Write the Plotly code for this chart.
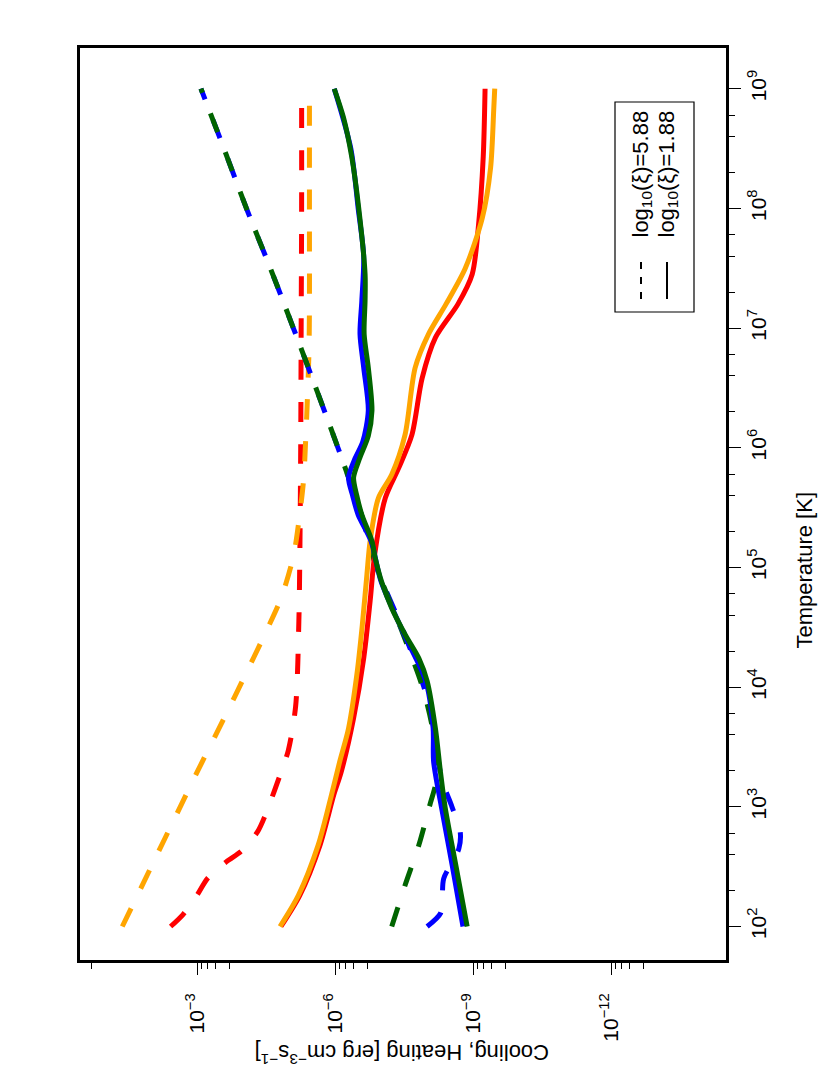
import plotly.graph_objects as go

# values: log10(T [K]) and log10(rate [erg cm^-3 s^-1])
# dashed = log10(xi)=5.88, solid = log10(xi)=1.88

red_588_T = [2.0, 2.1, 2.27, 2.40, 2.54, 2.63, 2.79, 2.93, 3.125, 3.265, 3.47, 3.84, 4.55, 5.06, 6.0, 7.0, 8.0, 9.0]
red_588_lg = [-2.42, -2.69, -3.01, -3.22, -3.63, -3.96, -4.31, -4.48, -4.67, -4.80, -4.98, -5.14, -5.21, -5.23, -5.25, -5.26, -5.27, -5.27]

orange_588_T = [2.0, 2.5, 3.0, 3.3, 3.76, 4.09, 4.41, 4.74, 5.09, 5.30, 5.72, 6.08, 6.45, 6.81, 7.18, 8.0, 9.0]
orange_588_lg = [-1.37, -2.0, -2.63, -3.01, -3.61, -4.03, -4.43, -4.82, -5.09, -5.18, -5.31, -5.36, -5.40, -5.43, -5.44, -5.44, -5.44]

blue_588_T = [2.0, 2.11, 2.25, 2.40, 2.65, 2.79, 3.0, 3.14, 3.3, 3.65, 4.0, 4.5, 5.0, 5.44, 6.0, 6.5, 7.0, 7.5, 8.0, 8.5, 9.0]
blue_588_lg = [-8.0, -8.29, -8.33, -8.36, -8.69, -8.72, -8.54, -8.40, -8.28, -8.15, -7.93, -7.45, -6.90, -6.57, -6.06, -5.58, -5.09, -4.59, -4.07, -3.58, -3.08]

green_588_T = [2.0, 2.345, 2.68, 3.03, 3.18, 3.3, 3.65, 4.0, 4.5, 5.0, 5.44, 6.0, 6.5, 7.0, 7.5, 8.0, 8.5, 9.0]
green_588_lg = [-7.23, -7.52, -7.82, -8.07, -8.18, -8.22, -8.12, -7.90, -7.42, -6.90, -6.57, -6.06, -5.58, -5.09, -4.59, -4.07, -3.58, -3.08]

red_188_T = [2.0, 2.26, 2.68, 3.10, 3.29, 3.74, 4.24, 4.72, 5.11, 5.58, 5.83, 6.11, 6.58, 6.92, 7.20, 7.45, 7.87, 8.43, 9.0]
red_188_lg = [-4.82, -5.23, -5.67, -5.97, -6.13, -6.40, -6.62, -6.76, -6.86, -7.09, -7.38, -7.67, -7.89, -8.18, -8.67, -8.98, -9.12, -9.22, -9.26]

orange_188_T = [2.0, 2.26, 2.68, 3.10, 3.38, 3.655, 4.10, 4.52, 4.94, 5.22, 5.58, 5.776, 6.11, 6.67, 6.95, 7.20, 7.50, 7.92, 8.34, 8.84, 9.0]
orange_188_lg = [-4.80, -5.20, -5.63, -5.92, -6.10, -6.29, -6.47, -6.59, -6.69, -6.76, -6.94, -7.23, -7.52, -7.74, -8.03, -8.41, -8.83, -9.20, -9.38, -9.45, -9.47]

blue_188_T = [2.0, 2.5, 3.0, 3.38, 3.655, 4.05, 4.44, 4.88, 5.22, 5.44, 5.60, 5.75, 5.90, 6.05, 6.31, 6.67, 6.95, 7.23, 7.6, 8.0, 8.5, 9.0]
blue_188_lg = [-8.78, -8.55, -8.31, -8.14, -8.13, -7.97, -7.50, -7.00, -6.78, -6.50, -6.38, -6.29, -6.42, -6.60, -6.72, -6.62, -6.54, -6.58, -6.62, -6.50, -6.34, -5.98]

green_188_T = [2.0, 2.5, 3.0, 3.29, 3.655, 4.05, 4.24, 4.44, 4.66, 4.88, 5.08, 5.22, 5.44, 5.60, 5.75, 5.90, 6.10, 6.31, 6.67, 6.95, 7.23, 7.45, 8.01, 8.43, 8.76, 9.0]
green_188_lg = [-8.87, -8.63, -8.39, -8.29, -8.18, -8.0, -7.82, -7.52, -7.23, -7.01, -6.87, -6.80, -6.58, -6.47, -6.40, -6.52, -6.72, -6.80, -6.72, -6.63, -6.65, -6.65, -6.51, -6.36, -6.18, -5.98]

rate_ticks = [1e-3, 1e-6, 1e-9, 1e-12]
rate_ticktext = ["10<sup>\u22123</sup>", "10<sup>\u22126</sup>", "10<sup>\u22129</sup>", "10<sup>\u221212</sup>"]
rate_minor = [m * 10.0 ** e for e in (0, -3, -6, -9, -12) for m in (0.2, 0.4, 0.6, 0.8)]
temp_ticks = [10.0 ** k for k in range(2, 10)]
temp_ticktext = [f"10<sup>{k}</sup>" for k in range(2, 10)]
temp_minor = [m * 10.0 ** k for k in range(2, 9) for m in (2, 4, 6)]

legend_labels = ["log<sub>10</sub>(\u03be)=5.88", "log<sub>10</sub>(\u03be)=1.88"]

W, H = 830, 1090
L_M, R_M, T_M, B_M = 72, 112, 40, 138
PW, PH = W - L_M - R_M, H - T_M - B_M
FONT = "Liberation Sans, Arial, Helvetica, sans-serif"


def px(x):
    return (x - L_M) / PW


def py(y):
    return 1 - (y - T_M) / PH


fig = go.Figure()

curves = [
    (red_588_T, red_588_lg, "red", "20px,22px"),
    (orange_588_T, orange_588_lg, "orange", "20px,22px"),
    (blue_588_T, blue_588_lg, "blue", "20px,22px"),
    (green_588_T, green_588_lg, "darkgreen", "20px,22px"),
    (red_188_T, red_188_lg, "red", "solid"),
    (orange_188_T, orange_188_lg, "orange", "solid"),
    (blue_188_T, blue_188_lg, "blue", "solid"),
    (green_188_T, green_188_lg, "darkgreen", "solid"),
]
for lt, lg, col, dash in curves:
    fig.add_trace(go.Scatter(
        x=[10.0 ** v for v in lg],
        y=[10.0 ** t for t in lt],
        mode="lines",
        line=dict(color=col, width=5, dash=dash, shape="spline", smoothing=0.8),
        showlegend=False,
        hoverinfo="skip",
    ))

fig.update_xaxes(
    type="log", range=[-0.45, -14.5], side="bottom",
    showline=True, linewidth=3, linecolor="black", mirror=True,
    showgrid=False, zeroline=False,
    tickmode="array", tickvals=rate_ticks, ticktext=rate_ticktext,
    ticks="outside", ticklen=12, tickwidth=1.2, tickcolor="black",
    tickangle=-90, ticklabelstandoff=10,
    tickfont=dict(family=FONT, size=21, color="black"),
    minor=dict(tickmode="array", tickvals=rate_minor, ticks="outside",
               ticklen=6, tickwidth=1.2, tickcolor="black", showgrid=False),
)
fig.update_yaxes(
    type="log", range=[1.72, 9.34], side="right",
    showline=True, linewidth=3, linecolor="black", mirror=True,
    showgrid=False, zeroline=False,
    tickmode="array", tickvals=temp_ticks, ticktext=temp_ticktext,
    ticks="outside", ticklen=12, tickwidth=1.2, tickcolor="black",
    tickangle=-90, ticklabelstandoff=0,
    tickfont=dict(family=FONT, size=21, color="black"),
    minor=dict(tickmode="array", tickvals=temp_minor, ticks="outside",
               ticklen=6, tickwidth=1.2, tickcolor="black", showgrid=False),
)

# axis titles (rotated page)
fig.add_annotation(
    x=px(394), y=py(1062), xref="paper", yref="paper", showarrow=False,
    text="Cooling, Heating [erg cm<sup>\u22123</sup>s<sup>\u22121</sup>]", textangle=180,
    font=dict(family=FONT, size=22, color="black"),
)
fig.add_annotation(
    x=px(810), y=py(562), xref="paper", yref="paper", showarrow=False,
    text="Temperature [K]", textangle=-90,
    font=dict(family=FONT, size=22, color="black"),
)

# legend, drawn rotated like the rest of the page
fig.add_shape(type="rect", xref="paper", yref="paper",
              x0=px(607), x1=px(686), y0=py(94), y1=py(304),
              line=dict(color="black", width=1.2), fillcolor="white")
for i, (lab, dash) in enumerate(zip(legend_labels, ["7px,8px", "solid"])):
    cx = 633 + 26 * i
    fig.add_shape(type="line", xref="paper", yref="paper",
                  x0=px(cx), x1=px(cx), y0=py(254), y1=py(291),
                  line=dict(color="black", width=2, dash=dash))
    fig.add_annotation(
        x=px(cx), y=py(232), xref="paper", yref="paper", showarrow=False,
        text=lab, textangle=-90, xanchor="center", yanchor="bottom",
        font=dict(family=FONT, size=22, color="black"),
    )

fig.update_layout(
    width=W, height=H,
    margin=dict(l=L_M, r=R_M, t=T_M, b=B_M),
    plot_bgcolor="white", paper_bgcolor="white",
    font=dict(family=FONT, size=20, color="black"),
)

fig.write_html("out.html")
